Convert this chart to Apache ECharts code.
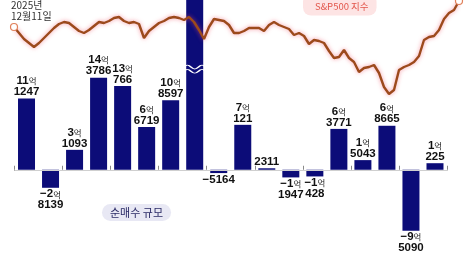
<!DOCTYPE html>
<html><head><meta charset="utf-8">
<script src="https://cdn.jsdelivr.net/npm/echarts@6/dist/echarts.min.js"></script>
<style>html,body{margin:0;padding:0;background:#fff}#c{width:473px;height:264px}</style>
</head><body><div id="c"></div>
<script>
// Weekly net buying (unit: 만 dollars; 10000만 = 1억)
const weeks = ['W1','W2','W3','W4','W5','W6','W7','W8','W9','W10','W11','W12','W13','W14','W15','W16','W17','W18'];
const netBuy = [111247, -28139, 31093, 143786, 130766, 66719, 108597, 400000, -5164, 70121, 2311, -11947, -10428, 63771, 15043, 68665, -95090, 10225];
const brokenIndex = 7; // bar exceeding chart top (broken)

// S&P500 daily index
const days = Array.from({length: 90}, (_, i) => 'D' + (i + 1));
const sp500 = [6885,6855,6825,6805,6785,6805,6830,6855,6880,6900,
  6910,6905,6885,6865,6855,6870,6890,6910,6905,6915,
  6930,6935,6915,6905,6910,6900,6830,6865,6885,6905,
  6915,6930,6935,6930,6920,6935,6910,6870,6825,6885,
  6925,6920,6915,6895,6855,6855,6865,6880,6880,6880,
  6865,6895,6910,6895,6885,6875,6845,6855,6840,6800,
  6820,6815,6805,6765,6730,6735,6770,6730,6710,6660,
  6680,6685,6695,6655,6585,6550,6570,6670,6685,6695,
  6710,6740,6820,6835,6840,6870,6925,6955,6970,7015];

const FONT = "'Liberation Sans','Noto Sans CJK KR',sans-serif";
function fmt(v) {
  const sign = v < 0 ? '−' : '';
  const a = Math.abs(v);
  const eok = Math.floor(a / 10000);
  const man = a % 10000;
  if (eok > 0) return '{n|' + sign + eok + '}{e|억}\n{n|' + man + '}';
  return '{n|' + sign + man + '}';
}
const barData = netBuy.map((v, i) => ({
  value: v,
  label: {
    show: i !== brokenIndex,
    position: v >= 0 ? 'top' : 'bottom',
    distance: 1,
    formatter: fmt(v)
  }
}));

const chart = echarts.init(document.getElementById('c'), null, {renderer: 'canvas'});
chart.setOption({
  animation: false,
  backgroundColor: '#fff',
  grid: [
    {left: 14.5, right: 26, top: 0, bottom: 2},
    {left: 14, right: 14, top: 0, bottom: 164}
  ],
  xAxis: [
    {type: 'category', gridIndex: 0, data: weeks,
     axisLine: {lineStyle: {color: '#8a8a8a', width: 1}},
     axisTick: {show: true, inside: true, length: 4, lineStyle: {color: '#8a8a8a'}},
     axisLabel: {show: false}, splitLine: {show: false}},
    {type: 'category', gridIndex: 1, data: days, boundaryGap: false, show: false}
  ],
  yAxis: [
    {type: 'value', gridIndex: 0, min: -144000, max: 265000, show: false, splitLine: {show: false}},
    {type: 'value', gridIndex: 1, min: 6520, max: 7020, show: false, splitLine: {show: false}}
  ],
  title: [
    {text: 'S&P500 지수', left: 303, top: -6, padding: [8, 8, 4, 12],
     backgroundColor: '#fde4e4', borderRadius: 8,
     textStyle: {color: '#e2574c', fontSize: 9.5, fontWeight: 'normal', fontFamily: "'Noto Sans CJK KR'"}},
    {text: '순매수 규모', left: 102, top: 204, padding: [3, 8, 3, 8],
     backgroundColor: '#e8e8f4', borderRadius: 10,
     textStyle: {color: '#2a2a66', fontSize: 11, fontWeight: 'normal', fontFamily: "'Noto Sans CJK KR'"}},
    {text: '2025년\n12월11일', left: 11, top: 0, padding: 0,
     textStyle: {color: '#333', fontSize: 10, lineHeight: 11, fontWeight: 'normal', fontFamily: "'Noto Sans CJK KR'"}}
  ],
  series: [
    {type: 'bar', xAxisIndex: 0, yAxisIndex: 0, data: barData, barWidth: 17, z: 2,
     itemStyle: {color: '#0c0c78'},
     label: {color: '#111', fontFamily: FONT, lineHeight: 11,
       rich: {n: {fontSize: 11.5, fontWeight: 'bold', fontFamily: FONT, color: '#111', lineHeight: 11},
              e: {fontSize: 8.5, fontFamily: "'Noto Sans CJK KR'", color: '#222', lineHeight: 11}}},
     markLine: {silent: true, symbol: 'none', label: {show: false},
       lineStyle: {color: '#cfcfcf', width: 1, type: 'solid'}, data: [{yAxis: 0}]},
     markPoint: {silent: true, label: {show: false},
       data: [{coord: [weeks[brokenIndex], 157000],
         symbol: 'path://M0,3 C3,0 5,0 8,3 S13,6 16,3 S21,0 24,3 M0,8 C3,5 5,5 8,8 S13,11 16,8 S21,5 24,8',
         symbolSize: [22, 8], symbolKeepAspect: false,
         itemStyle: {color: 'rgba(0,0,0,0)', borderColor: '#ffffff', borderWidth: 1.4}}]}
    },
    {type: 'line', xAxisIndex: 1, yAxisIndex: 1, data: sp500, z: 5,
     symbol: (v, p) => (p.dataIndex === 0 || p.dataIndex === sp500.length - 1) ? 'circle' : 'none',
     symbolSize: 7, showAllSymbol: true,
     itemStyle: {color: '#ffffff', borderColor: '#e0805a', borderWidth: 1.2},
     lineStyle: {color: '#9c4a1c', width: 2.4, shadowColor: 'rgba(240,80,100,0.6)', shadowBlur: 4}}
  ]
});
</script></body></html>
